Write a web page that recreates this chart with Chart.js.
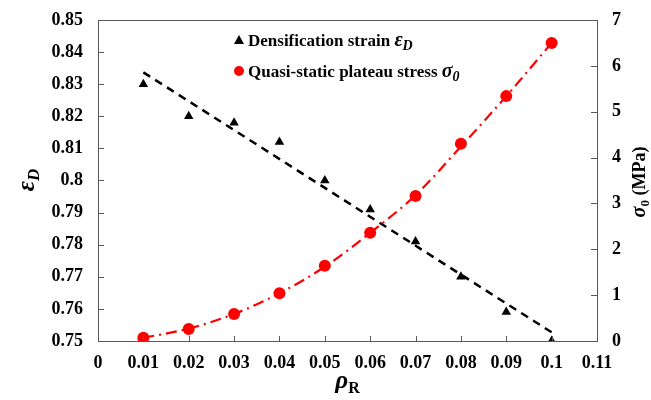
<!DOCTYPE html>
<html>
<head>
<meta charset="utf-8">
<script src="https://cdn.jsdelivr.net/npm/chart.js@4/dist/chart.umd.min.js"></script>
<style>
  html, body { margin: 0; padding: 0; background: #fff; }
  #wrap { width: 651px; height: 400px; position: relative; }
</style>
</head>
<body>
<div id="wrap"><canvas id="chart"></canvas></div>
<script>
// relative density values on the x axis
const densities = [0.01, 0.02, 0.03, 0.04, 0.05, 0.06, 0.07, 0.08, 0.09, 0.1];
// densification strain (left axis)
const strain = [0.830, 0.820, 0.818, 0.812, 0.800, 0.791, 0.781, 0.770, 0.759, 0.750];
// plateau stress in MPa (right axis)
const stress = [0.07, 0.26, 0.59, 1.04, 1.64, 2.36, 3.16, 4.30, 5.34, 6.50];
// fitted trend lines
const strainTrendX = [0.01, 0.1];
const strainTrend = [0.8337, 0.7527];
const stressTrend = [0.07, 0.27, 0.59, 1.04, 1.62, 2.36, 3.18, 4.24, 5.34, 6.50];

const pts = (xs, ys) => xs.map((x, i) => ({ x: x, y: ys[i] }));
const fmt = (v) => String(+Number(v).toFixed(2));
const AXIS = "#595959";
const SERIF = "'Liberation Serif', 'Times New Roman', serif";

// fixed axis boxes so the plot area sits at 98..597 x 20..341
const fitY = (w) => (s) => {
  s.width = w;
  s.paddingTop = 0;
  s.paddingBottom = 0;
};

// top border, inner tick marks, legend and axis titles with subscripts
const extras = {
  id: "extras",
  afterDraw(chart) {
    const ctx = chart.ctx;
    const { x, yL, yR } = chart.scales;
    const area = chart.chartArea;
    ctx.save();
    ctx.strokeStyle = AXIS;
    ctx.lineWidth = 1;
    ctx.beginPath();
    const top = Math.round(area.top) + 0.5;
    ctx.moveTo(area.left, top);
    ctx.lineTo(area.right, top);
    x.ticks.forEach((t) => {
      const px = Math.round(x.getPixelForValue(t.value)) + 0.5;
      ctx.moveTo(px, area.bottom);
      ctx.lineTo(px, area.bottom - 5);
    });
    yL.ticks.forEach((t) => {
      const py = Math.round(yL.getPixelForValue(t.value)) + 0.5;
      ctx.moveTo(area.left, py);
      ctx.lineTo(area.left + 6, py);
    });
    yR.ticks.forEach((t) => {
      const py = Math.round(yR.getPixelForValue(t.value)) + 0.5;
      ctx.moveTo(area.right, py);
      ctx.lineTo(area.right - 6, py);
    });
    ctx.stroke();

    // legend
    ctx.fillStyle = "#000";
    ctx.beginPath();
    ctx.moveTo(239, 35);
    ctx.lineTo(244, 44);
    ctx.lineTo(234, 44);
    ctx.closePath();
    ctx.fill();
    ctx.fillStyle = "#ff0000";
    ctx.beginPath();
    ctx.arc(239, 71, 5, 0, Math.PI * 2);
    ctx.fill();

    ctx.fillStyle = "#000";
    ctx.textBaseline = "alphabetic";
    ctx.textAlign = "left";
    ctx.font = "bold 17px " + SERIF;
    let tx = 248;
    ctx.fillText("Densification strain ", tx, 46);
    tx += ctx.measureText("Densification strain ").width;
    ctx.font = "italic bold 20px " + SERIF;
    ctx.fillText("ε", tx, 46);
    tx += ctx.measureText("ε").width;
    ctx.font = "italic bold 14px " + SERIF;
    ctx.fillText("D", tx, 50);

    ctx.font = "bold 17px " + SERIF;
    tx = 248;
    ctx.fillText("Quasi-static plateau stress ", tx, 77);
    tx += ctx.measureText("Quasi-static plateau stress ").width;
    ctx.font = "italic bold 20px " + SERIF;
    ctx.fillText("σ", tx, 77);
    tx += ctx.measureText("σ").width;
    ctx.font = "italic bold 14px " + SERIF;
    ctx.fillText("0", tx, 81);

    // x title
    ctx.font = "italic bold 25px " + SERIF;
    const rw = ctx.measureText("ρ").width;
    ctx.font = "bold 16px " + SERIF;
    const sw = ctx.measureText("R").width;
    let cx = (area.left + area.right) / 2 - (rw + sw) / 2;
    ctx.font = "italic bold 25px " + SERIF;
    ctx.fillText("ρ", cx, 388);
    ctx.font = "bold 16px " + SERIF;
    ctx.fillText("R", cx + rw, 393);

    // left title, rotated
    ctx.save();
    ctx.translate(34, 180);
    ctx.rotate(-Math.PI / 2);
    ctx.font = "italic bold 25px " + SERIF;
    const ew = ctx.measureText("ε").width;
    ctx.font = "italic bold 17px " + SERIF;
    const dw = ctx.measureText("D").width;
    let lx = -(ew + dw) / 2;
    ctx.font = "italic bold 25px " + SERIF;
    ctx.fillText("ε", lx, 0);
    ctx.font = "italic bold 17px " + SERIF;
    ctx.fillText("D", lx + ew, 5);
    ctx.restore();

    // right title, rotated
    ctx.save();
    ctx.translate(645, 182);
    ctx.rotate(-Math.PI / 2);
    ctx.font = "italic bold 20px " + SERIF;
    const gw = ctx.measureText("σ").width;
    ctx.font = "bold 13px " + SERIF;
    const zw = ctx.measureText("0").width;
    ctx.font = "bold 18px " + SERIF;
    const mw = ctx.measureText(" (MPa)").width;
    let rx = -(gw + zw + mw) / 2;
    ctx.font = "italic bold 20px " + SERIF;
    ctx.fillText("σ", rx, 0);
    ctx.font = "bold 13px " + SERIF;
    ctx.fillText("0", rx + gw, 4);
    ctx.font = "bold 18px " + SERIF;
    ctx.fillText(" (MPa)", rx + gw + zw, 0);
    ctx.restore();
    ctx.restore();
  },
};

const tickFont = { family: SERIF, size: 18, weight: "bold" };

new Chart(document.getElementById("chart"), {
  type: "scatter",
  data: {
    datasets: [
      {
        label: "Densification strain",
        data: pts(densities, strain),
        yAxisID: "yL",
        pointStyle: "triangle",
        pointRadius: 5.5,
        backgroundColor: "#000",
        borderColor: "#000",
        borderWidth: 0,
        showLine: false,
        order: 1,
      },
      {
        label: "Quasi-static plateau stress",
        data: pts(densities, stress),
        yAxisID: "yR",
        pointStyle: "circle",
        pointRadius: 6,
        backgroundColor: "#ff0000",
        borderColor: "#ff0000",
        borderWidth: 0,
        showLine: false,
        order: 2,
      },
      {
        label: "strain trend",
        data: pts(strainTrendX, strainTrend),
        yAxisID: "yL",
        showLine: true,
        pointRadius: 0,
        borderColor: "#000",
        borderWidth: 2.5,
        borderDash: [8, 6],
        order: 3,
      },
      {
        label: "stress trend",
        data: pts(densities, stressTrend),
        yAxisID: "yR",
        showLine: true,
        pointRadius: 0,
        borderColor: "#ff0000",
        borderWidth: 2.2,
        borderDash: [11, 5, 2, 5],
        cubicInterpolationMode: "monotone",
        order: 4,
      },
    ],
  },
  options: {
    responsive: true,
    maintainAspectRatio: false,
    animation: false,
    layout: { padding: { top: 20, left: 0, right: 0, bottom: 0 } },
    plugins: {
      legend: { display: false },
      tooltip: { enabled: false },
    },
    scales: {
      x: {
        type: "linear",
        min: 0,
        max: 0.11,
        ticks: { stepSize: 0.01, color: "#000", font: tickFont, padding: 12, callback: fmt, maxRotation: 0 },
        grid: { display: true, drawOnChartArea: false, drawTicks: false },
        border: { color: AXIS, width: 1 },
        afterFit: (s) => { s.height = 59; },
      },
      yL: {
        type: "linear",
        position: "left",
        min: 0.75,
        max: 0.85,
        ticks: { stepSize: 0.01, color: "#000", font: tickFont, padding: 15, callback: fmt },
        grid: { display: true, drawOnChartArea: false, drawTicks: false },
        border: { color: AXIS, width: 1 },
        afterFit: fitY(98),
      },
      yR: {
        type: "linear",
        position: "right",
        min: 0,
        max: 7,
        ticks: { stepSize: 1, color: "#000", font: tickFont, padding: 15, callback: fmt },
        grid: { display: true, drawOnChartArea: false, drawTicks: false },
        border: { color: AXIS, width: 1 },
        afterFit: fitY(54),
      },
    },
  },
  plugins: [extras],
});
</script>
</body>
</html>
